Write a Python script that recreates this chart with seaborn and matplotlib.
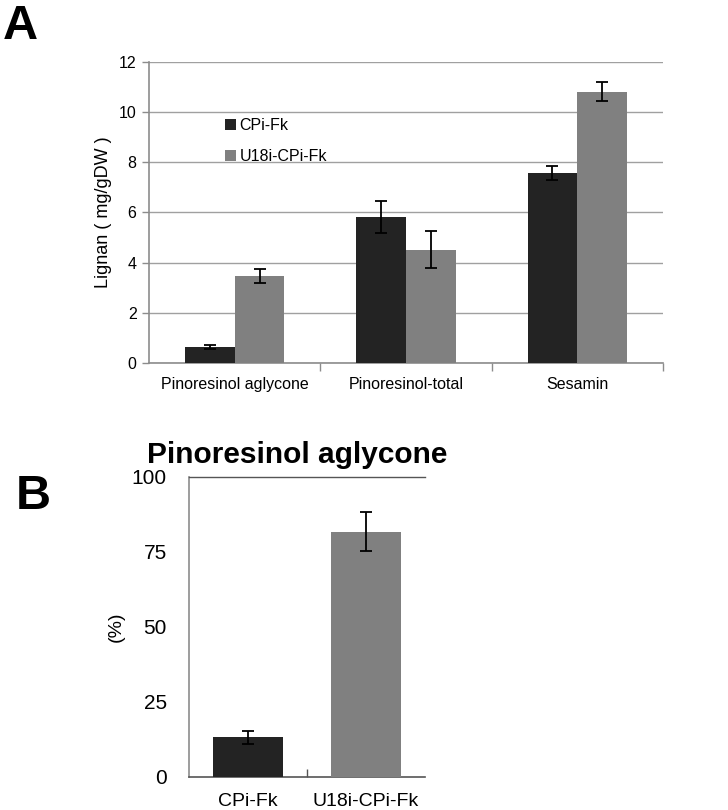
import matplotlib
matplotlib.use("Agg")
import matplotlib.pyplot as plt
import seaborn as sns
import pandas as pd
import numpy as np

sns.set_theme(style="white")
plt.rcParams['font.family'] = ['Liberation Sans', 'DejaVu Sans']
plt.rcParams.update({"text.color": "black", "axes.labelcolor": "black",
                     "xtick.color": "black", "ytick.color": "black"})

# ---- Data panel A ----
categories_a = ["Pinoresinol aglycone", "Pinoresinol-total", "Sesamin"]
lines = ["CPi-Fk", "U18i-CPi-Fk"]
cpi_vals = [0.65, 5.82, 7.57]
cpi_err = [0.08, 0.65, 0.27]
u18_vals = [3.47, 4.52, 10.82]
u18_err = [0.29, 0.74, 0.37]
yticks_a = [0, 2, 4, 6, 8, 10, 12]

# ---- Data panel B ----
categories_b = ["CPi-Fk", "U18i-CPi-Fk"]
pct_vals = [13.1, 81.7]
pct_err = [2.2, 6.5]
yticks_b = [0, 25, 50, 75, 100]

dark = "#232323"
grey = "#808080"
axis_col = "#8c8c8c"

fig = plt.figure(figsize=(7.28, 8.10), dpi=100)

# ---------------- Panel A ----------------
axA = fig.add_axes([0.2047, 0.5519, 0.706, 0.3716])
dfA = pd.DataFrame({
    "cat": categories_a * 2,
    "line": [lines[0]] * 3 + [lines[1]] * 3,
    "val": cpi_vals + u18_vals,
    "err": cpi_err + u18_err,
})
sns.barplot(data=dfA, x="cat", y="val", hue="line", order=categories_a,
            hue_order=lines, palette=[dark, grey], width=0.58,
            errorbar=None, saturation=1, ax=axA, zorder=3, linewidth=0)
for cont, errs in zip(axA.containers, [cpi_err, u18_err]):
    for patch, e in zip(cont.patches, errs):
        xc = patch.get_x() + patch.get_width() / 2
        axA.errorbar(xc, patch.get_height(), yerr=e, fmt="none",
                     ecolor="black", elinewidth=1.3, capsize=4,
                     capthick=1.3, zorder=4)
axA.set_ylim(0, 12)
axA.set_xlim(-0.5, 2.5)
axA.set_yticks(yticks_a)
axA.yaxis.grid(True, color="#a0a0a0", linewidth=1.0, zorder=0)
axA.set_axisbelow(True)
for s in ["top", "right"]:
    axA.spines[s].set_visible(False)
for s in ["left", "bottom"]:
    axA.spines[s].set_color(axis_col)
    axA.spines[s].set_linewidth(1.2)
axA.tick_params(axis="y", length=5, color=axis_col, width=1.0,
                labelsize=11.5, pad=4, left=True)
axA.tick_params(axis="x", which="major", length=0, labelsize=11.5, pad=10)
axA.set_xticks([0.5, 1.5, 2.5], minor=True)
axA.tick_params(axis="x", which="minor", length=6, color=axis_col,
                width=1.0, bottom=True)
axA.set_xlabel("")
axA.set_ylabel("Lignan ( mg/gDW )", fontsize=13, labelpad=5)
leg = axA.legend(loc="upper left", bbox_to_anchor=(0.12, 0.86),
                 frameon=False, fontsize=11.5, handlelength=0.7,
                 handleheight=0.7, handletextpad=0.2, labelspacing=1.0)

# ---------------- Panel B ----------------
axB = fig.add_axes([0.2596, 0.0411, 0.3242, 0.3704])
dfB = pd.DataFrame({"line": categories_b, "pct": pct_vals, "err": pct_err})
sns.barplot(data=dfB, x="line", y="pct", hue="line", order=categories_b,
            palette=[dark, grey], width=0.59, errorbar=None, saturation=1,
            legend=False, ax=axB, zorder=3, linewidth=0)
for patch, e in zip([p for c in axB.containers for p in c.patches], pct_err):
    xc = patch.get_x() + patch.get_width() / 2
    axB.errorbar(xc, patch.get_height(), yerr=e, fmt="none",
                 ecolor="black", elinewidth=1.3, capsize=4,
                 capthick=1.3, zorder=4)
axB.set_ylim(0, 100)
axB.set_xlim(-0.5, 1.5)
axB.set_yticks(yticks_b)
axB.spines["right"].set_visible(False)
axB.spines["left"].set_color(axis_col)
axB.spines["left"].set_linewidth(1.2)
axB.spines["bottom"].set_color("#555555")
axB.spines["bottom"].set_linewidth(1.2)
axB.spines["top"].set_color("#555555")
axB.spines["top"].set_linewidth(1.0)
axB.tick_params(axis="y", length=0, labelsize=15, pad=16)
axB.tick_params(axis="x", which="major", length=0, labelsize=14, pad=12)
axB.set_xticks([0.5], minor=True)
axB.tick_params(axis="x", which="minor", direction="in", length=6,
                color="#555555", width=1.0, bottom=True)
axB.set_xlabel("")
axB.set_ylabel("(%)", fontsize=14, labelpad=5)
axB.set_title("Pinoresinol aglycone", fontsize=21.5, fontweight="bold",
              pad=10, x=0.458)

fig.text(0.004, 0.995, "A", fontsize=35, fontweight="bold", va="top", ha="left")
fig.text(0.022, 0.415, "B", fontsize=35, fontweight="bold", va="top", ha="left")

fig.savefig("out.png", dpi=100)
